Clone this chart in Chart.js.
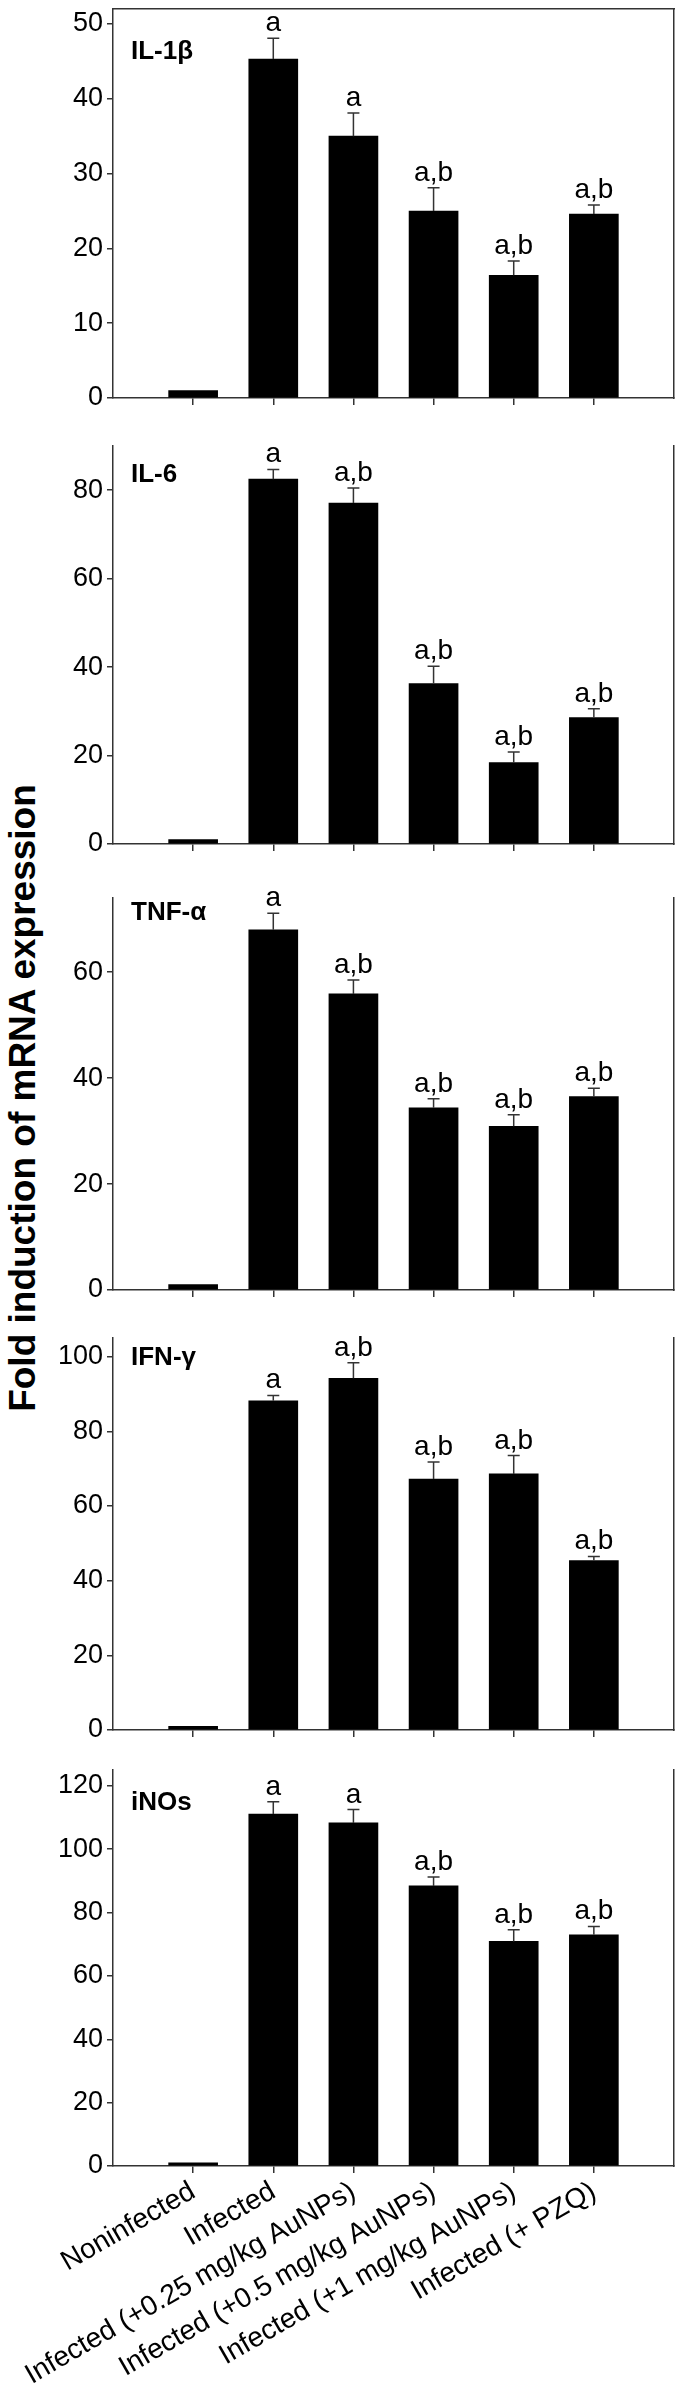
<!DOCTYPE html>
<html>
<head>
<meta charset="utf-8">
<script src="https://cdn.jsdelivr.net/npm/chart.js@4.4.0/dist/chart.umd.min.js"></script>
<style>
  body { margin: 0; background: #fff; }
  #wrap { position: relative; width: 683px; height: 2390px; overflow: hidden; }
  #wrap canvas { position: absolute; left: 0; }
  #ytitle {
    position: absolute; left: 22px; top: 1098px;
    transform: translate(-50%, -50%) rotate(-90deg);
    font: bold 37px "Liberation Sans", Arial, sans-serif;
    line-height: 37px; white-space: nowrap; color: #000;
  }
</style>
</head>
<body>
<div id="wrap">
  <div id="ytitle">Fold induction of mRNA expression</div>
</div>
<script>
// groups on the x axis
const categories = ['Noninfected', 'Infected', 'Infected (+0.25 mg/kg AuNPs)',
  'Infected (+0.5 mg/kg AuNPs)', 'Infected (+1 mg/kg AuNPs)', 'Infected (+ PZQ)'];

// IL-1β
const il1bMean = [1, 45.3, 35.0, 25.0, 16.4, 24.6];
const il1bSem = [0, 2.8, 3.1, 3.1, 1.9, 1.2];
const il1bSig = ['', 'a', 'a', 'a,b', 'a,b', 'a,b'];
const il1bTicks = [0, 10, 20, 30, 40, 50];

// IL-6
const il6Mean = [1, 82.5, 77.1, 36.3, 18.4, 28.6];
const il6Sem = [0, 2.2, 3.4, 3.9, 2.4, 2.0];
const il6Sig = ['', 'a', 'a,b', 'a,b', 'a,b', 'a,b'];
const il6Ticks = [0, 20, 40, 60, 80];

// TNF-α
const tnfMean = [1, 68.0, 55.9, 34.4, 30.9, 36.5];
const tnfSem = [0, 3.1, 2.6, 1.7, 2.2, 1.6];
const tnfSig = ['', 'a', 'a,b', 'a,b', 'a,b', 'a,b'];
const tnfTicks = [0, 20, 40, 60];

// IFN-γ
const ifnMean = [1, 88.2, 94.2, 67.2, 68.6, 45.4];
const ifnSem = [0, 1.4, 4.2, 4.6, 4.9, 1.1];
const ifnSig = ['', 'a', 'a,b', 'a,b', 'a,b', 'a,b'];
const ifnTicks = [0, 20, 40, 60, 80, 100];

// iNOs
const inosMean = [1, 111.1, 108.3, 88.4, 70.9, 73.0];
const inosSem = [0, 3.9, 4.2, 2.8, 3.7, 2.6];
const inosSig = ['', 'a', 'a', 'a,b', 'a,b', 'a,b'];
const inosTicks = [0, 20, 40, 60, 80, 100, 120];

const panels = [
  { name: 'IL-1β', mean: il1bMean, sem: il1bSem, sig: il1bSig, ticks: il1bTicks, max: 52 },
  { name: 'IL-6', mean: il6Mean, sem: il6Sem, sig: il6Sig, ticks: il6Ticks, max: 90 },
  { name: 'TNF-α', mean: tnfMean, sem: tnfSem, sig: tnfSig, ticks: tnfTicks, max: 74 },
  { name: 'IFN-γ', mean: ifnMean, sem: ifnSem, sig: ifnSig, ticks: ifnTicks, max: 105 },
  { name: 'iNOs', mean: inosMean, sem: inosSem, sig: inosSig, ticks: inosTicks, max: 125 },
];

// where each plot area sits on the page
const boxes = [
  { top: 1, bottom: 398, labelDy: 50 },
  { top: 446, bottom: 844, labelDy: 36 },
  { top: 898, bottom: 1290, labelDy: 22 },
  { top: 1338, bottom: 1730, labelDy: 27 },
  { top: 1770, bottom: 2166, labelDy: 40 },
];

const FONT = '"Liberation Sans", Arial, sans-serif';
const AXIS = '#333';

// error bars, significance letters and panel name
const annotate = {
  id: 'annotate',
  afterDatasetsDraw(chart, args, opts) {
    const { ctx, chartArea, scales: { x, y } } = chart;
    const p = opts.panel;
    ctx.save();
    ctx.strokeStyle = AXIS;
    ctx.lineWidth = 1.5;
    ctx.fillStyle = '#000';
    ctx.font = '28px ' + FONT;
    ctx.textAlign = 'center';
    ctx.textBaseline = 'alphabetic';
    p.mean.forEach((v, i) => {
      const cx = x.getPixelForValue(i + 1);
      const y0 = y.getPixelForValue(v);
      const y1 = y.getPixelForValue(v + p.sem[i]);
      if (p.sem[i] > 0) {
        ctx.beginPath();
        ctx.moveTo(cx, y0);
        ctx.lineTo(cx, y1);
        ctx.moveTo(cx - 6, y1);
        ctx.lineTo(cx + 6, y1);
        ctx.stroke();
      }
      if (p.sig[i]) ctx.fillText(p.sig[i], cx, y1 - 7);
    });
    ctx.font = 'bold 26px ' + FONT;
    ctx.textAlign = 'left';
    ctx.fillText(p.name, chartArea.left + 18, chartArea.top + opts.labelDy);
    ctx.restore();
  }
};

const wrap = document.getElementById('wrap');

panels.forEach((p, k) => {
  const box = boxes[k];
  const last = k === panels.length - 1;
  const padTop = k === 0 ? 1 : 20;
  const canvasTop = box.top - padTop;
  const height = last ? 2390 - canvasTop : padTop + (box.bottom - box.top) + 7 + 3;

  const cv = document.createElement('canvas');
  cv.width = 683;
  cv.height = height;
  cv.style.top = canvasTop + 'px';
  wrap.appendChild(cv);

  const scales = {
    x: {
      type: 'linear', min: 0, max: 7, position: 'bottom', offset: false,
      afterBuildTicks: s => { s.ticks = categories.map((c, i) => ({ value: i + 1 })); },
      ticks: {
        display: last, autoSkip: false, minRotation: 30, maxRotation: 30,
        padding: 2, color: '#000', font: { family: FONT, size: 28 },
        callback: (v, i) => categories[i]
      },
      grid: { offset: false, drawOnChartArea: false, tickLength: 7, color: AXIS, lineWidth: 1.5 },
      border: { color: AXIS, width: 1.5 },
      afterFit: s => {
        s.paddingLeft = 0; s.paddingRight = 0;
        if (last) s.height = 2390 - box.bottom;
      }
    },
    y: {
      min: 0, max: p.max,
      afterBuildTicks: s => { s.ticks = p.ticks.map(v => ({ value: v })); },
      ticks: { padding: 4, color: '#000', font: { family: FONT, size: 27 } },
      grid: { drawOnChartArea: false, tickLength: 6, color: AXIS, lineWidth: 1.5 },
      border: { color: AXIS, width: 1.5 },
      afterFit: s => { s.width = 113; s.paddingTop = 0; s.paddingBottom = 0; }
    },
    yRight: {
      type: 'linear', position: 'right', min: 0, max: 1,
      ticks: { display: false }, grid: { display: false },
      border: { color: AXIS, width: 1.5 }
    }
  };
  if (k === 0) {
    scales.xTop = {
      type: 'linear', position: 'top', min: 0, max: 1, offset: false,
      ticks: { display: false }, grid: { display: false, offset: false },
      border: { color: AXIS, width: 1.5 }
    };
  }

  new Chart(cv, {
    type: 'bar',
    data: {
      datasets: [{
        data: p.mean.map((v, i) => ({ x: i + 1, y: v })),
        backgroundColor: '#000',
        borderWidth: 0,
        barThickness: 49
      }]
    },
    options: {
      responsive: false,
      animation: false,
      devicePixelRatio: 1,
      layout: { padding: { top: padTop, right: 1, bottom: last ? 0 : 3, left: 0 } },
      plugins: {
        legend: { display: false },
        tooltip: { enabled: false },
        annotate: { panel: p, labelDy: box.labelDy }
      },
      scales
    },
    plugins: [annotate]
  });
});
</script>
</body>
</html>
